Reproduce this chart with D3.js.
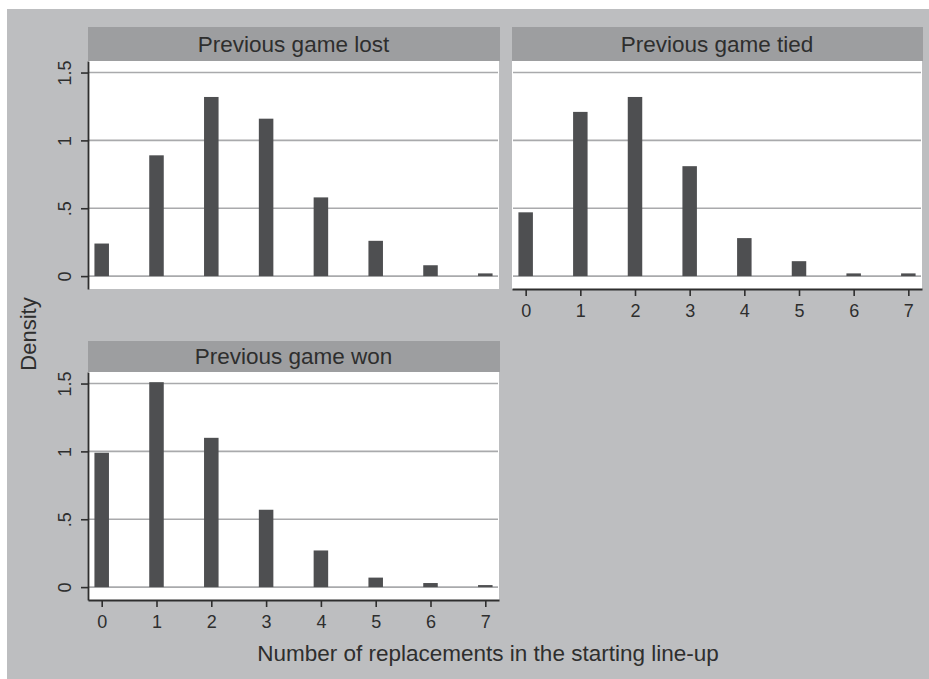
<!DOCTYPE html>
<html>
<head>
<meta charset="utf-8">
<script src="https://cdn.jsdelivr.net/npm/d3@7"></script>
<style>
  body { margin: 0; background: #ffffff; }
  svg { display: block; font-family: "Liberation Sans", Arial, Helvetica, sans-serif; }
</style>
</head>
<body>
<div id="chart"></div>
<script>
// data
let replacements = [0, 1, 2, 3, 4, 5, 6, 7];
let lostDensity = [0.24, 0.89, 1.32, 1.16, 0.58, 0.26, 0.08, 0.02];
let tiedDensity = [0.47, 1.21, 1.32, 0.81, 0.28, 0.11, 0.02, 0.02];
let wonDensity = [0.99, 1.51, 1.10, 0.57, 0.27, 0.07, 0.03, 0.015];
let panelTitles = ["Previous game lost", "Previous game tied", "Previous game won"];
let yTicks = [0, 0.5, 1, 1.5];
let yTickLabels = ["0", ".5", "1", "1.5"];
let xTicks = [0, 1, 2, 3, 4, 5, 6, 7];
let xTitle = "Number of replacements in the starting line-up";
let yTitle = "Density";

////////////////////////////////////////////////////////////////////////
// layout and styles

const width = 929, height = 679;
const fontFamily = "'Liberation Sans', Arial, Helvetica, sans-serif";
const barWidth = 0.265;            // in data units
const xExtent = [-0.25, 7.25];
const yExtent = [-0.095, 1.585];

const bgColor = "#bdbec0";
const stripColor = "#9d9ea0";
const barColor = "#4e4f51";
const gridColor = "#a9aaac";
const inkColor = "#2e2e2e";

// each panel: plot box + strip on top, and which axes it shows
let panels = [
  { title: panelTitles[0], values: lostDensity, left: 88, right: 499, top: 61, bottom: 289, strip: 34, yAxis: true, xAxis: false },
  { title: panelTitles[1], values: tiedDensity, left: 512, right: 922, top: 61, bottom: 289, strip: 34, yAxis: false, xAxis: true },
  { title: panelTitles[2], values: wonDensity, left: 88, right: 499, top: 372, bottom: 600, strip: 31, yAxis: true, xAxis: true }
];

let svg = d3.select("#chart")
  .append("svg")
  .attr("width", width)
  .attr("height", height);

// graph region background
svg.append("rect")
  .attr("x", 7)
  .attr("y", 9)
  .attr("width", width - 7)
  .attr("height", height - 9)
  .attr("fill", bgColor);

// restyle an axis the way Stata draws it
function styleAxis(ax) {
  ax.attr("font-family", fontFamily).attr("font-size", 18);
  ax.select(".domain").attr("stroke", inkColor).attr("stroke-width", 1.8);
  ax.selectAll(".tick line").attr("stroke", inkColor).attr("stroke-width", 1.6);
  ax.selectAll(".tick text").attr("fill", inkColor).attr("dy", 0);
}

////////////////////////////////////////////////////////////////////////
// draw one panel
function drawPanel(p) {
  let x = d3.scaleLinear().domain(xExtent).range([p.left, p.right]);
  let y = d3.scaleLinear().domain(yExtent).range([p.bottom, p.top]);

  let g = svg.append("g");

  // title strip
  g.append("rect")
    .attr("x", p.left)
    .attr("y", p.top - p.strip)
    .attr("width", p.right - p.left + 1)
    .attr("height", p.strip)
    .attr("fill", stripColor);

  g.append("text")
    .attr("x", (p.left + p.right) / 2)
    .attr("y", p.top - p.strip / 2 + 7.5)
    .attr("text-anchor", "middle")
    .attr("font-size", 22.5)
    .attr("fill", inkColor)
    .text(p.title);

  // plot area
  g.append("rect")
    .attr("x", p.left)
    .attr("y", p.top)
    .attr("width", p.right - p.left)
    .attr("height", p.bottom - p.top)
    .attr("fill", "#ffffff");

  // horizontal grid lines
  g.selectAll(".grid")
    .data(yTicks)
    .enter()
    .append("line")
    .attr("x1", p.left + 1)
    .attr("x2", p.right - 1)
    .attr("y1", d => y(d))
    .attr("y2", d => y(d))
    .attr("stroke", gridColor)
    .attr("stroke-width", 1.6);

  // bars
  g.selectAll(".bar")
    .data(replacements)
    .enter()
    .append("rect")
    .attr("x", d => x(d - barWidth / 2))
    .attr("width", d => x(barWidth) - x(0))
    .attr("y", (d, i) => y(p.values[i]))
    .attr("height", (d, i) => y(0) - y(p.values[i]))
    .attr("fill", barColor);

  // y axis with rotated labels
  if (p.yAxis) {
    let ax = g.append("g")
      .attr("transform", "translate(" + p.left + ",0)")
      .call(d3.axisLeft(y)
        .tickValues(yTicks)
        .tickFormat((d, i) => yTickLabels[i])
        .tickSize(7)
        .tickSizeOuter(0));
    styleAxis(ax);
    ax.selectAll(".tick text")
      .attr("transform", "rotate(-90)")
      .attr("x", 0)
      .attr("y", -17.5)
      .attr("text-anchor", "middle");
  }

  // x axis
  if (p.xAxis) {
    let ax = g.append("g")
      .attr("transform", "translate(0," + p.bottom + ")")
      .call(d3.axisBottom(x)
        .tickValues(xTicks)
        .tickFormat(d3.format("d"))
        .tickSize(7)
        .tickSizeOuter(0));
    styleAxis(ax);
    ax.selectAll(".tick text")
      .attr("y", 28);
  }
}

panels.forEach(drawPanel);

////////////////////////////////////////////////////////////////////////
// axis titles
svg.append("text")
  .attr("x", 488)
  .attr("y", 661)
  .attr("text-anchor", "middle")
  .attr("font-size", 22.5)
  .attr("fill", inkColor)
  .text(xTitle);

svg.append("text")
  .attr("transform", "translate(35.5,334) rotate(-90)")
  .attr("text-anchor", "middle")
  .attr("font-size", 22)
  .attr("fill", inkColor)
  .text(yTitle);
</script>
</body>
</html>
